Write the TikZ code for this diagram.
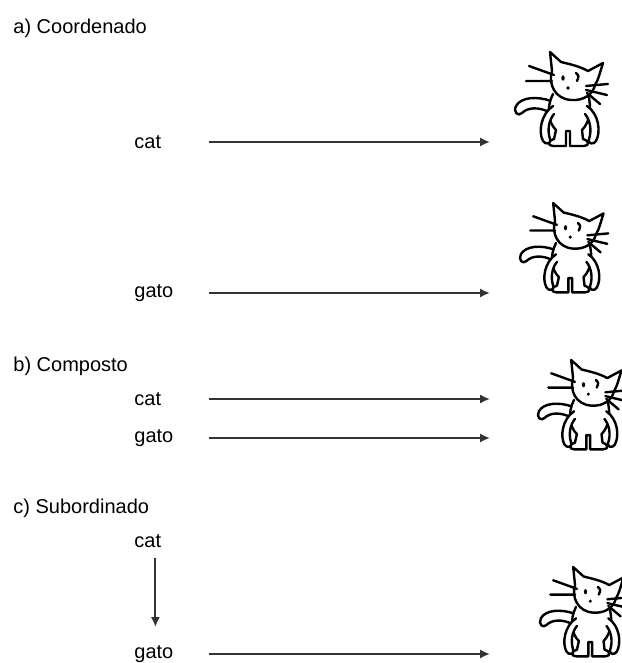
\documentclass[tikz,border=0pt]{standalone}
\usepackage{fontspec}
\setmainfont{Liberation Sans}
\usetikzlibrary{arrows.meta, calc}

% cartoon cat, #1 = top left corner, #2 = scale
\newcommand\kitty[2]{%
  \begin{scope}[shift={(#1)}, scale=#2, kitty line]
    % tail
    \draw[fill=white] (38,49) .. controls (24,44) and (8,45) .. (3,54)
      .. controls (0,60) and (5,65) .. (9,61)
      .. controls (15,55) and (26,55) .. (36,60);
    % body and legs
    \draw[fill=white] (40,42) .. controls (33,56) and (35,70) .. (43,78) -- (41,87)
      .. controls (35,88) and (34,94) .. (40,94) -- (53,94) -- (53,79) -- (57,79) -- (57,94) -- (71,94)
      .. controls (77,94) and (76,88) .. (70,87) -- (69,78)
      .. controls (77,70) and (79,56) .. (75,42);
    % arms
    \draw[fill=white] (40,54) .. controls (28,62) and (25,80) .. (30,89)
      .. controls (32,93) and (39,92) .. (37,87) .. controls (34,78) and (36,68) .. (41,62);
    \draw[fill=white] (74,54) .. controls (86,62) and (88,80) .. (83,89)
      .. controls (81,93) and (74,92) .. (76,87) .. controls (79,78) and (77,68) .. (72,62);
    % head with ears
    \draw[fill=white] (37,0) -- (39,19) .. controls (35,32) and (42,47) .. (58,48)
      .. controls (71,49) and (80,42) .. (82,33) .. controls (84,30) and (85,27) .. (86,24)
      -- (90,11) -- (75,19) .. controls (66,14) and (56,12) .. (48,10) -- cycle;
    % face
    \fill (50,26) ellipse [x radius=1.7, y radius=2.7];
    \draw (63,21) .. controls (66,24) .. (64,29);
    \fill (55,36) circle (1.8);
    % whiskers
    \draw (16,14) -- (41,23) (13,29) -- (39,29);
    \draw (73,34) -- (95,32) (73,38) -- (94,43) (74,41) -- (87,52);
  \end{scope}%
}

\begin{document}
\begin{tikzpicture}[x=0.5pt, y=-0.5pt, font=\fontsize{10}{12}\selectfont,
  part/.style={anchor=base west, inner sep=0pt},
  word/.style={anchor=west, text width=37pt, inner sep=0pt},
  link/.style={draw=black!80, line width=1pt, -{Latex[length=5pt,width=4.6pt]}},
  kitty line/.style={line width=1.2pt, line join=round, line cap=round}]
\useasboundingbox (0,0) rectangle (621,663);

% a) two words, two cats
\node[part] (partA) at (13,34) {a) Coordenado};
\node[word] (catA) at (134,142) {cat};
\node[word] (gatoA) at (134,293) {gato};
\coordinate (kA1) at (490,142);
\coordinate (kA2) at (490,293);
\kitty{513,52}{1}
\kitty{518,203}{0.95}
\draw[link] (catA.east) -- (kA1);
\draw[link] (gatoA.east) -- (kA2);

% b) two words, one cat
\node[part] (partB) at (13,371) {b) Composto};
\node[word] (catB) at (134,399) {cat};
\node[word] (gatoB) at (134,438) {gato};
\coordinate (kB1) at (490,399);
\coordinate (kB2) at (490,438);
\kitty{536,360}{0.95}
\draw[link] (catB.east) -- (kB1);
\draw[link] (gatoB.east) -- (kB2);

% c) one word through the other
\node[part] (partC) at (13,513) {c) Subordinado};
\node[word] (catC) at (134,541) {cat};
\node[word] (gatoC) at (134,654) {gato};
\coordinate (kC) at (490,654);
\kitty{538,567}{0.95}
\draw[link] ([xshift=-8pt,yshift=-5pt]catC.south) -- ([xshift=-8pt,yshift=9pt]gatoC.north);
\draw[link] (gatoC.east) -- (kC);
\end{tikzpicture}
\end{document}
